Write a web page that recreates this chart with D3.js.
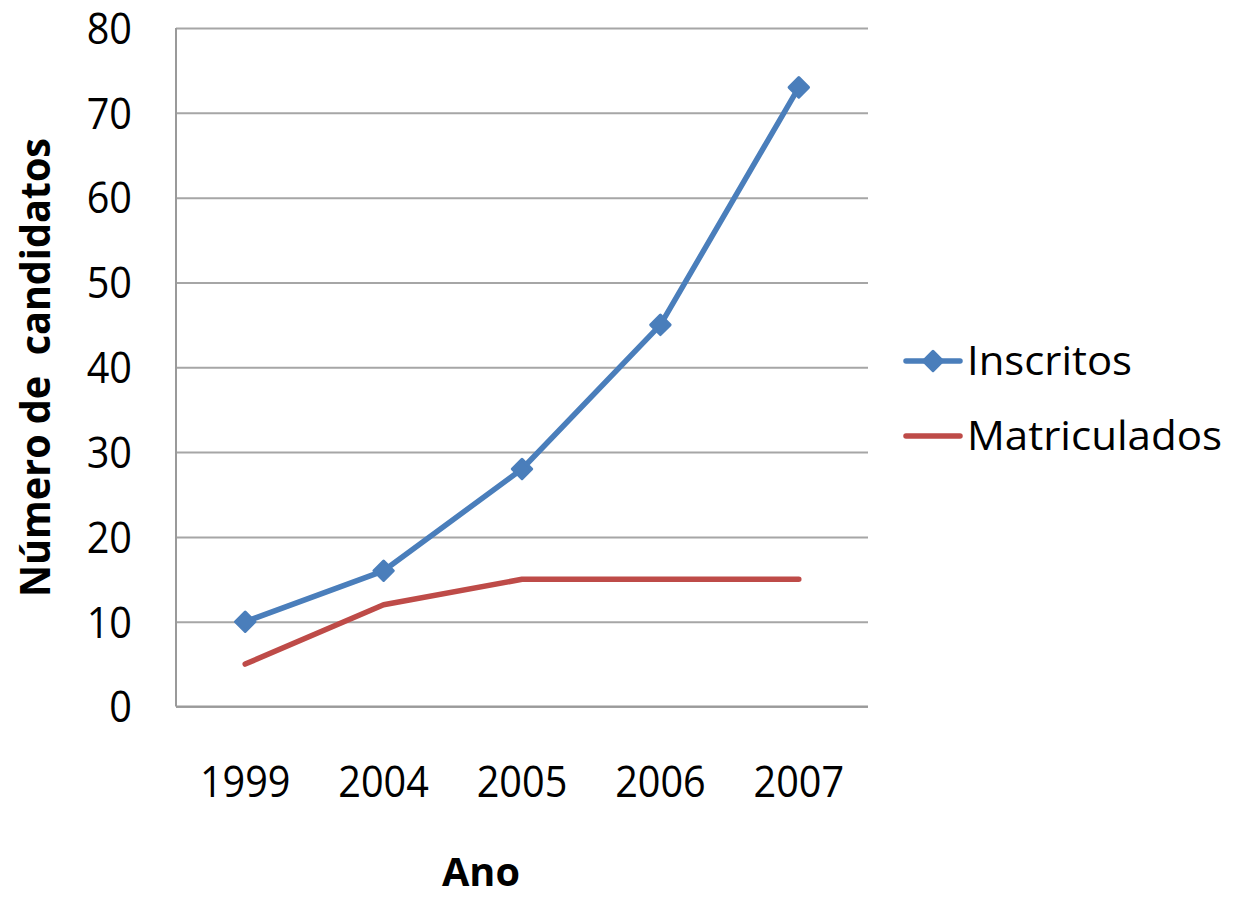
<!DOCTYPE html>
<html>
<head>
<meta charset="utf-8">
<script src="https://cdn.jsdelivr.net/npm/d3@7"></script>
<style>
  html, body { margin: 0; padding: 0; background: #fff; }
  svg { display: block; }
  text { font-family: "Open Sans", "Noto Sans", sans-serif; fill: #000; }
</style>
</head>
<body>
<svg id="chart" width="1233" height="897"></svg>
<script>
const categories = ["1999", "2004", "2005", "2006", "2007"];
const inscritos = [10, 16, 28, 45, 73];
const matriculados = [5, 12, 15, 15, 15];
const yTicks = [0, 10, 20, 30, 40, 50, 60, 70, 80];
const seriesNames = ["Inscritos", "Matriculados"];
const seriesColors = ["#4a7ebb", "#be4b48"];
const yTitle = "Número de  candidatos";
const xTitle = "Ano";

const svg = d3.select("#chart");
const L = 176, R = 868, T = 28, B = 706.5;

const x = d3.scalePoint().domain(categories).range([L, R]).padding(0.5);
const y = d3.scaleLinear().domain([0, 80]).range([B, T]);

// gridlines
const yAxis = d3.axisLeft(y).tickValues(yTicks).tickSize(-(R - L)).tickFormat("");
const gy = svg.append("g").attr("transform", `translate(${L},0)`).call(yAxis);
gy.select(".domain").remove();
gy.selectAll(".tick line").attr("stroke", "#a6a6a6").attr("stroke-width", 2);

// axis lines
svg.append("line").attr("x1", L).attr("x2", L).attr("y1", T).attr("y2", B)
  .attr("stroke", "#9a9a9a").attr("stroke-width", 2);
svg.append("line").attr("x1", L).attr("x2", R).attr("y1", B).attr("y2", B)
  .attr("stroke", "#9a9a9a").attr("stroke-width", 2);

// y tick labels
svg.append("g").selectAll("text").data(yTicks).join("text")
  .attr("transform", d => `translate(132,${y(d)}) scale(0.9,1)`)
  .attr("text-anchor", "end")
  .attr("dy", "0.36em")
  .attr("font-size", 44)
  .text(d => d);

// x tick labels
svg.append("g").selectAll("text").data(categories).join("text")
  .attr("transform", d => `translate(${x(d)},797) scale(0.9,1)`)
  .attr("text-anchor", "middle")
  .attr("font-size", 44)
  .text(d => d);

// axis titles
svg.append("text")
  .attr("transform", "translate(50,367.5) rotate(-90)")
  .attr("text-anchor", "middle")
  .attr("font-weight", "bold")
  .attr("font-size", 42)
  .attr("textLength", 459)
  .attr("lengthAdjust", "spacingAndGlyphs")
  .style("white-space", "pre")
  .text(yTitle);

svg.append("text")
  .attr("x", 481).attr("y", 886)
  .attr("text-anchor", "middle")
  .attr("font-weight", "bold")
  .attr("font-size", 40)
  .attr("textLength", 78)
  .attr("lengthAdjust", "spacingAndGlyphs")
  .text(xTitle);

// lines
const line = d3.line().x((d, i) => x(categories[i])).y(d => y(d));
svg.append("path").datum(matriculados).attr("d", line)
  .attr("fill", "none").attr("stroke", seriesColors[1]).attr("stroke-width", 5.5)
  .attr("stroke-linejoin", "round").attr("stroke-linecap", "round");
svg.append("path").datum(inscritos).attr("d", line)
  .attr("fill", "none").attr("stroke", seriesColors[0]).attr("stroke-width", 5.5)
  .attr("stroke-linejoin", "round").attr("stroke-linecap", "round");

const diamond = d3.symbol().type(d3.symbolDiamond2).size(240);
svg.append("g").selectAll("path").data(inscritos).join("path")
  .attr("transform", (d, i) => `translate(${x(categories[i])},${y(d)})`)
  .attr("d", diamond)
  .attr("fill", seriesColors[0])
  .attr("stroke", seriesColors[0]).attr("stroke-width", 3).attr("stroke-linejoin", "round");

// legend
const legY = [361, 436];
const legW = [165, 255];
const leg = svg.append("g").selectAll("g").data(seriesNames).join("g")
  .attr("transform", (d, i) => `translate(0,${legY[i]})`);
leg.append("line").attr("x1", 906).attr("x2", 960).attr("y1", 0).attr("y2", 0)
  .attr("stroke", (d, i) => seriesColors[i]).attr("stroke-width", 5.5).attr("stroke-linecap", "round");
leg.filter((d, i) => i === 0).append("path")
  .attr("transform", "translate(933,0)")
  .attr("d", diamond).attr("fill", seriesColors[0])
  .attr("stroke", seriesColors[0]).attr("stroke-width", 3).attr("stroke-linejoin", "round");
leg.append("text")
  .attr("x", 967).attr("y", 0).attr("dy", "0.36em")
  .attr("font-size", 40)
  .attr("textLength", (d, i) => legW[i])
  .attr("lengthAdjust", "spacingAndGlyphs")
  .text(d => d);
</script>
</body>
</html>
